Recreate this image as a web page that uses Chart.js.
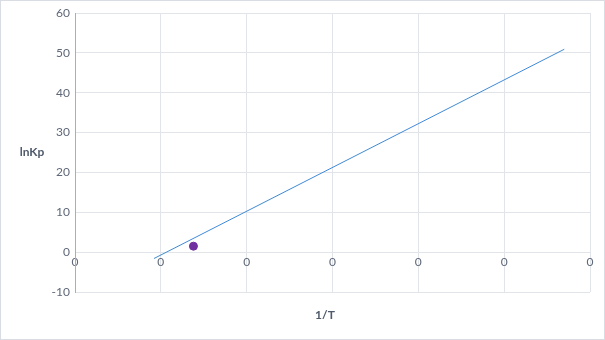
<!DOCTYPE html>
<html>
<head>
<meta charset="utf-8">
<script src="https://cdn.jsdelivr.net/npm/chart.js@4"></script>
<style>
  html, body { margin: 0; padding: 0; background: #fff; }
  #wrap { width: 605px; height: 340px; position: relative; }
</style>
</head>
<body>
<div id="wrap"><canvas id="chart" width="605" height="340"></canvas></div>
<script>
// measured point (1/T, lnKp)
const pointX = [0.00069];
const pointY = [1.5];
// trendline ends
const trendX = [0.00046, 0.00285];
const trendY = [-1.6, 50.9];
// axes
const xMin = 0, xMax = 0.003, xStep = 0.0005;
const yMin = -10, yMax = 60, yStep = 10;
const xTitle = "1/T";
const yTitle = "lnKp";

const tickColor = "#5f6878";
const gridColor = "#e1e4e9";

const titlesPlugin = {
  id: "titles",
  beforeDraw(chart) {
    const c = chart.ctx;
    c.save();
    c.fillStyle = "#fff";
    c.fillRect(0, 0, chart.width, chart.height);
    c.strokeStyle = "#d9dde3";
    c.lineWidth = 1;
    c.strokeRect(0.5, 0.5, chart.width - 1, chart.height - 1);
    c.restore();
  },
  afterDraw(chart) {
    const c = chart.ctx;
    const a = chart.chartArea;
    c.save();
    c.fillStyle = "#4f5a6b";
    c.font = "bold 12px Lato";
    c.textAlign = "center";
    c.textBaseline = "middle";
    c.fillText(yTitle, 32, (a.top + a.bottom) / 2);
    c.fillText(xTitle, 325, 315);
    c.restore();
  }
};

new Chart(document.getElementById("chart"), {
  type: "scatter",
  data: {
    datasets: [
      {
        data: pointX.map((x, i) => ({ x, y: pointY[i] })),
        backgroundColor: "#7030a0",
        borderColor: "#7030a0",
        pointRadius: 4,
        pointStyle: "circle"
      },
      {
        data: trendX.map((x, i) => ({ x, y: trendY[i] })),
        showLine: true,
        borderColor: "#3f8ad6",
        borderWidth: 1,
        pointRadius: 0
      }
    ]
  },
  options: {
    responsive: false,
    animation: false,
    devicePixelRatio: 1,
    layout: { padding: { top: 13, right: 15, bottom: 48, left: 0 } },
    plugins: { legend: { display: false }, tooltip: { enabled: false } },
    scales: {
      x: {
        type: "linear",
        position: { y: 0 },
        min: xMin, max: xMax,
        ticks: {
          stepSize: xStep,
          autoSkip: false,
          padding: 3,
          color: tickColor,
          font: { family: "Lato", size: 12 },
          callback: v => v.toFixed(0)
        },
        grid: { color: gridColor, drawTicks: false },
        border: { color: gridColor }
      },
      y: {
        min: yMin, max: yMax,
        afterFit(scale) { scale.width = 75; },
        ticks: {
          stepSize: yStep,
          autoSkip: false,
          padding: 5,
          color: tickColor,
          font: { family: "Lato", size: 12 }
        },
        grid: { color: gridColor, drawTicks: false },
        border: { color: "#a9aeb9" }
      }
    }
  },
  plugins: [titlesPlugin]
});
</script>
</body>
</html>
